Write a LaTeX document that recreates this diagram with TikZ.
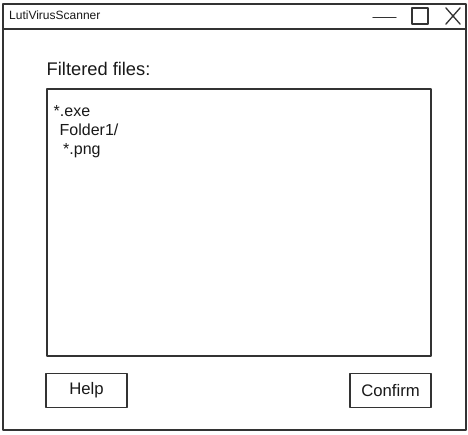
\documentclass[tikz,border=0pt]{standalone}
\usepackage{fontspec}
\setmainfont{Liberation Sans}
\begin{document}
\begin{tikzpicture}[x=1pt,y=-1pt,
  line/.style={draw=black!80,line width=1.3pt,line cap=round,line join=round},
  box/.style={line,rectangle,inner sep=0pt,fill=none},
  txt/.style={inner sep=0pt,text=black!90},
  itemfont/.style={font=\fontsize{16}{19}\selectfont},
  btnfont/.style={font=\fontsize{16.7}{19}\selectfont,text=black!90}]
\useasboundingbox[fill=white] (0,0) rectangle (468,435);
% window
\node[box,minimum width=463pt,minimum height=426pt] (window) at (234.5,217) {};
\coordinate (tbL) at (3,29);
\coordinate (tbR) at (466,29);
\draw[line] (tbL) -- (tbR);
\node[txt,anchor=base west,font=\fontsize{12}{14}\selectfont] (title) at (9,20) {LutiVirusScanner};
% window controls
\coordinate (mn1) at (373,17.5);
\coordinate (mn2) at (396,17.5);
\draw[line] (mn1) -- (mn2);
\node[box,minimum width=16pt,minimum height=16pt] (maxbtn) at (420,16) {};
\node[inner sep=0pt,minimum width=14pt,minimum height=16pt] (closebtn) at (453,16) {};
\draw[line] (closebtn.north west) -- (closebtn.south east);
\draw[line] (closebtn.south west) -- (closebtn.north east);
% label
\node[txt,anchor=base west,font=\fontsize{18.3}{21}\selectfont] (lbl) at (46.5,76) {Filtered files:};
% list box
\node[box,minimum width=384pt,minimum height=267pt] (list) at (239,222.5) {};
\node[txt,anchor=base west,itemfont] (item1) at (53.5,116.5) {*.exe};
\node[txt,anchor=base west,itemfont] (item2) at (59.5,136) {Folder1/};
\node[txt,anchor=base west,itemfont] (item3) at (63,155) {*.png};
% buttons
\node[box,minimum width=81pt,minimum height=34pt,btnfont] (help) at (86.5,390.5) {Help};
\node[box,minimum width=81pt,minimum height=34pt,btnfont] (confirm) at (390.5,390.5) {Confirm};
\end{tikzpicture}
\end{document}
